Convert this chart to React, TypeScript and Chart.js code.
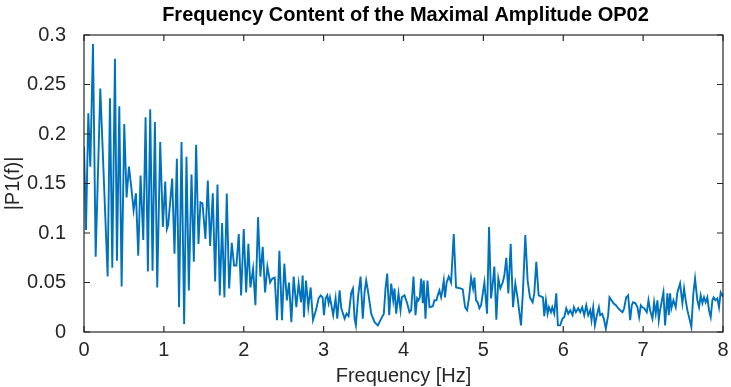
import React, { useEffect, useRef } from "react";
import { Chart, registerables } from "chart.js";

Chart.register(...registerables);

const freq = [
  0, 0.025, 0.054, 0.079, 0.1125, 0.146, 0.204, 0.296, 0.325, 0.354, 0.3875, 0.4125, 0.442, 0.471, 0.504,
  0.533, 0.5625, 0.592, 0.621, 0.65, 0.679, 0.708, 0.742, 0.771, 0.8, 0.829, 0.858, 0.8875,
  0.917, 0.954, 0.9875, 1.017, 1.0375, 1.054, 1.104, 1.133, 1.1625, 1.19, 1.221, 1.254, 1.283, 1.3125,
  1.346, 1.375, 1.404, 1.433, 1.458, 1.483, 1.52, 1.55, 1.579, 1.6125, 1.642, 1.671, 1.7, 1.729, 1.758,
  1.7875, 1.817, 1.85, 1.879, 1.908, 1.9375, 1.967, 2.0, 2.03, 2.058, 2.083, 2.117, 2.146, 2.179, 2.208,
  2.2375, 2.267, 2.296, 2.33, 2.358, 2.3875, 2.417, 2.446, 2.479, 2.508, 2.54, 2.567, 2.596, 2.625, 2.658,
  2.6875, 2.717, 2.7375, 2.754, 2.779, 2.808, 2.8375, 2.867, 2.904, 2.9375, 2.9625, 2.9875, 3.004, 3.025,
  3.046, 3.0625, 3.079, 3.12, 3.15, 3.171, 3.2, 3.221, 3.2375, 3.2625, 3.2875, 3.3125, 3.346, 3.367, 3.3875,
  3.404, 3.433, 3.4625, 3.49, 3.5125, 3.533, 3.554, 3.596, 3.6375, 3.679, 3.721, 3.754, 3.775, 3.796, 3.821,
  3.846, 3.871, 3.8875, 3.908, 3.9375, 3.9625, 3.979, 4.0125, 4.046, 4.075, 4.096, 4.125, 4.15, 4.171,
  4.1875, 4.204, 4.221, 4.242, 4.254, 4.275, 4.3, 4.325, 4.367, 4.3875, 4.4125, 4.429, 4.45, 4.471, 4.483,
  4.504, 4.52, 4.54, 4.567, 4.596, 4.629, 4.658, 4.7125, 4.742, 4.771, 4.796, 4.821, 4.846, 4.871, 4.8875,
  4.908, 4.929, 4.95, 4.971, 5.0125, 5.046, 5.071, 5.096, 5.121, 5.1375, 5.1625, 5.1875, 5.2125, 5.242,
  5.2625, 5.2875, 5.3125, 5.342, 5.371, 5.4, 5.429, 5.471, 5.496, 5.525, 5.554, 5.583, 5.617, 5.6375,
  5.6625, 5.692, 5.746, 5.7625, 5.783, 5.804, 5.821, 5.846, 5.8625, 5.8875, 5.9125, 5.933, 5.9625, 5.99,
  6.0125, 6.0375, 6.0625, 6.0875, 6.117, 6.133, 6.158, 6.1875, 6.2125, 6.2375, 6.2625, 6.2875, 6.3125,
  6.3375, 6.354, 6.375, 6.396, 6.421, 6.446, 6.4625, 6.4875, 6.508, 6.533, 6.5625, 6.579, 6.604, 6.629,
  6.658, 6.6875, 6.7125, 6.742, 6.7625, 6.7875, 6.8125, 6.8375, 6.858, 6.875, 6.904, 6.929, 6.95, 6.971,
  6.992, 7.0125, 7.046, 7.067, 7.0875, 7.117, 7.1375, 7.158, 7.179, 7.196, 7.2125, 7.242, 7.254, 7.275,
  7.304, 7.321, 7.3375, 7.354, 7.379, 7.408, 7.429, 7.4625, 7.4917, 7.5125, 7.533, 7.554, 7.575, 7.604,
  7.629, 7.65, 7.679, 7.7, 7.721, 7.742, 7.7625, 7.783, 7.804, 7.825, 7.846, 7.867, 7.883, 7.904, 7.929,
  7.95, 7.971, 7.99, 8.0,
];

const amp = [
  0.187, 0.103, 0.221, 0.167, 0.291, 0.076, 0.246, 0.056, 0.236, 0.065, 0.276, 0.072, 0.228, 0.046, 0.21,
  0.136, 0.167, 0.146, 0.123, 0.14, 0.077, 0.158, 0.093, 0.217, 0.061, 0.225, 0.062, 0.212,
  0.045, 0.192, 0.106, 0.152, 0.104, 0.108, 0.155, 0.079, 0.175, 0.025, 0.192, 0.008, 0.177, 0.042,
  0.159, 0.071, 0.189, 0.089, 0.131, 0.13, 0.094, 0.153, 0.087, 0.14, 0.051, 0.149, 0.037, 0.11, 0.035,
  0.14, 0.044, 0.09, 0.067, 0.067, 0.099, 0.037, 0.104, 0.04, 0.089, 0.045, 0.064, 0.027, 0.116, 0.056,
  0.086, 0.04, 0.066, 0.05, 0.054, 0.055, 0.012, 0.082, 0.012, 0.069, 0.032, 0.05, 0.01, 0.056, 0.025,
  0.049, 0.03, 0.057, 0.015, 0.052, 0.025, 0.045, 0.012, 0.022, 0.034, 0.037, 0.035, 0.017, 0.034,
  0.037, 0.029, 0.035, 0.017, 0.034, 0.0135, 0.042, 0.024, 0.02, 0.0135, 0.0185, 0.016, 0.04, 0.044, 0.0135,
  0.0067, 0.037, 0.056, 0.0135, 0.04, 0.052, 0.042, 0.0185, 0.01, 0.0067, 0.0135, 0.0185, 0.044, 0.059, 0.017,
  0.049, 0.032, 0.044, 0.0185, 0.039, 0.022, 0.035, 0.037, 0.029, 0.02, 0.022, 0.056, 0.017, 0.034,
  0.032, 0.035, 0.054, 0.029, 0.052, 0.0135, 0.052, 0.025, 0.026, 0.032, 0.032, 0.037, 0.042, 0.035, 0.04,
  0.052, 0.035, 0.05, 0.056, 0.05, 0.099, 0.045, 0.044, 0.043, 0.025, 0.022, 0.035, 0.055, 0.044, 0.055,
  0.032, 0.03, 0.024, 0.027, 0.05, 0.0185, 0.106, 0.034, 0.052, 0.066, 0.0125, 0.054, 0.044, 0.05,
  0.057, 0.075, 0.039, 0.089, 0.025, 0.049, 0.034, 0.0067, 0.042, 0.098, 0.052, 0.035, 0.03, 0.039,
  0.071, 0.037, 0.035, 0.016, 0.032, 0.0185, 0.025, 0.02, 0.025, 0.0185, 0.039, 0.0067, 0.0067, 0.0135,
  0.015, 0.024, 0.0185, 0.022, 0.017, 0.025, 0.02, 0.024, 0.02, 0.025, 0.017, 0.027, 0.017,
  0.022, 0.012, 0.025, 0.0067, 0.017, 0.025, 0.017, 0.0185, 0.0135, 0.0034, 0.017, 0.035, 0.032, 0.029,
  0.027, 0.024, 0.022, 0.02, 0.024, 0.035, 0.037, 0.012, 0.027, 0.03, 0.029, 0.025, 0.015, 0.027,
  0.025, 0.024, 0.02, 0.032, 0.022, 0.0135, 0.03, 0.0185, 0.032, 0.012, 0.022, 0.035, 0.04, 0.0067,
  0.039, 0.017, 0.039, 0.024, 0.032, 0.025, 0.04, 0.049, 0.029, 0.044, 0.032, 0.022, 0.015, 0.005,
  0.039, 0.054, 0.032, 0.025, 0.037, 0.029, 0.035, 0.03, 0.035, 0.022, 0.015, 0.032, 0.035, 0.032, 0.034,
  0.025, 0.04, 0.037, 0.039,
];

const xTicks = [0, 1, 2, 3, 4, 5, 6, 7, 8];
const xTickLabels = ["0", "1", "2", "3", "4", "5", "6", "7", "8"];
const yTicks = [0, 0.05, 0.1, 0.15, 0.2, 0.25, 0.3];
const yTickLabels = ["0", "0.05", "0.1", "0.15", "0.2", "0.25", "0.3"];

const chartTitle = "Frequency Content of the Maximal Amplitude OP02";
const xTitle = "Frequency [Hz]";
const yTitle = "|P1(f)|";

const FONT = "'Liberation Sans', Arial, Helvetica, sans-serif";
const TEXT = "#262626";
const LINE = "#0072BD";

const matlabPlugin = {
  id: "matlabBox",
  afterDraw(chart: any) {
    const { ctx, chartArea } = chart;
    const { left, right, top, bottom } = chartArea;
    const xs = chart.scales.x;
    const ys = chart.scales.y;
    ctx.save();
    ctx.strokeStyle = TEXT;
    ctx.lineWidth = 1.2;
    ctx.strokeRect(left, top, right - left, bottom - top);
    const tl = 6;
    ctx.beginPath();
    xTicks.forEach((t) => {
      const px = xs.getPixelForValue(t);
      ctx.moveTo(px, bottom);
      ctx.lineTo(px, bottom - tl);
      ctx.moveTo(px, top);
      ctx.lineTo(px, top + tl);
    });
    yTicks.forEach((t) => {
      const py = ys.getPixelForValue(t);
      ctx.moveTo(left, py);
      ctx.lineTo(left + tl, py);
      ctx.moveTo(right, py);
      ctx.lineTo(right - tl, py);
    });
    ctx.stroke();

    ctx.fillStyle = "#000000";
    ctx.font = `bold 20px ${FONT}`;
    ctx.textAlign = "center";
    ctx.textBaseline = "middle";
    ctx.fillText(chartTitle, (left + right) / 2 + 2, 15);

    ctx.fillStyle = TEXT;
    ctx.font = `20px ${FONT}`;
    ctx.fillText(xTitle, (left + right) / 2, 376);

    ctx.translate(13, (top + bottom) / 2);
    ctx.rotate(-Math.PI / 2);
    ctx.fillText(yTitle, 0, 0);
    ctx.restore();
  },
};

export default function App() {
  const ref = useRef<HTMLCanvasElement | null>(null);

  useEffect(() => {
    document.body.style.margin = "0";
    const canvas = ref.current;
    if (!canvas) return;
    const points = freq.map((f, i) => ({ x: f, y: amp[i] }));
    const chart = new Chart(canvas, {
      type: "line",
      data: {
        datasets: [
          {
            data: points,
            borderColor: LINE,
            borderWidth: 1.9,
            pointRadius: 0,
            tension: 0,
            fill: false,
          },
        ],
      },
      options: {
        animation: false,
        responsive: false,
        events: [],
        layout: { padding: { top: 35, right: 8, left: 0, bottom: 0 } },
        plugins: {
          legend: { display: false },
          title: { display: false },
          tooltip: { enabled: false },
        },
        scales: {
          x: {
            type: "linear",
            min: 0,
            max: 8,
            grid: { display: false },
            border: { display: false },
            afterBuildTicks: (s: any) => {
              s.ticks = xTicks.map((v) => ({ value: v }));
            },
            afterFit: (s: any) => {
              s.height = 55;
            },
            ticks: {
              autoSkip: false,
              maxRotation: 0,
              padding: -2,
              color: TEXT,
              font: { family: FONT, size: 20 },
              callback: (v: any) => {
                const i = xTicks.indexOf(Number(v));
                return i >= 0 ? xTickLabels[i] : "";
              },
            },
          },
          y: {
            type: "linear",
            min: 0,
            max: 0.3,
            grid: { display: false },
            border: { display: false },
            afterBuildTicks: (s: any) => {
              s.ticks = yTicks.map((v) => ({ value: v }));
            },
            afterFit: (s: any) => {
              s.width = 84;
            },
            ticks: {
              autoSkip: false,
              padding: 10,
              color: TEXT,
              font: { family: FONT, size: 20 },
              callback: (v: any) => {
                const i = yTicks.findIndex((t) => Math.abs(t - Number(v)) < 1e-9);
                return i >= 0 ? yTickLabels[i] : "";
              },
            },
          },
        },
      },
      plugins: [matlabPlugin],
    });
    return () => chart.destroy();
  }, []);

  return (
    <div style={{ width: 731, height: 387, background: "#fff" }}>
      <canvas ref={ref} width={731} height={387} style={{ display: "block" }} />
    </div>
  );
}
